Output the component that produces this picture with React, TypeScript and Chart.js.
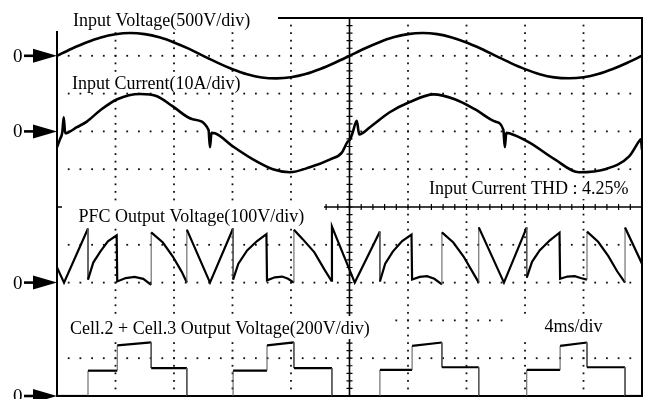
import { useEffect, useRef } from "react";
import { Chart, registerables } from "chart.js";

Chart.register(...registerables);

const CANVAS_W = 652;
const CANVAS_H = 399;

// time base: 4 ms per division, 10 divisions
const msPerDiv = 4;
const xDivs = 10;
const yDivs = 10;

// Channel 1: input voltage (V), 500 V/div
const voltageTimeMs = [
  0, 1, 2, 3, 4, 5, 6, 7, 8, 9, 10, 11, 12, 13, 14, 15, 16, 17, 18, 19, 20,
  21, 22, 23, 24, 25, 26, 27, 28, 29, 30, 31, 32, 33, 34, 35, 36, 37, 38, 39, 40,
];
const voltageValues = [
  0, 93, 176, 243, 286, 302, 287, 244, 177, 94, -2, -94, -177, -244, -286, -298,
  -284, -242, -175, -92, 0, 94, 177, 244, 287, 302, 287, 243, 176, 93, 0, -93,
  -176, -243, -285, -297, -284, -242, -175, -92, 2,
];

// Channel 2: input current (A), 10 A/div
const currentTimeMs = [
  0, 0.2, 0.36, 0.46, 0.56, 0.76, 1.36, 2.04, 2.96, 4.12, 5.68, 6.84, 7.92, 9.28,
  10.36, 10.46, 10.56, 10.8, 12.04, 13.4, 14.76, 15.92, 17.28, 18.68, 19.48,
  19.84, 20.04, 20.2, 20.5, 20.66, 21.4, 22.72, 24.08, 25.76, 27.2, 28.6,
  29.96, 30.52, 30.62, 30.72, 30.92, 32.28, 34.04, 35.68, 37.48, 39.12, 39.8,
  39.92, 40,
];
const currentValues = [
  -4.2, -2.1, -0.3, 3.7, -0.5, -0.3, 1.1, 2.6, 5.6, 8.5, 9.9, 9.3, 6.6, 3.2,
  0.4, -4.2, -0.4, -0.5, -4.0, -7.4, -10.0, -10.8, -9.5, -7.4, -5.6, -2.9,
  -2.1, -0.5, 2.8, -0.8, 1.1, 5.0, 7.7, 9.8, 8.5, 5.8, 2.6, 0.4, -4.2, -0.4,
  -0.5, -2.9, -7.4, -10.8, -10.0, -6.6, -2.6, -2.1, -4.8,
];

// Channel 3: PFC output voltage (V), 100 V/div
const pfcTimeMs = [
  0, 0.48, 2.12, 2.12, 2.48, 2.96, 3.48, 4.08, 4.12, 4.7, 5.3, 5.9, 6.44, 6.44,
  7.24, 7.92, 8.52, 8.88, 8.88, 10.46, 12.04, 12.04, 12.4, 13.0, 13.68, 14.32,
  14.36, 14.9, 15.4, 15.8, 16.2, 16.2, 16.8, 17.6, 18.28, 18.76, 18.8, 20.36,
  22.08, 22.08, 22.44, 22.96, 23.6, 24.24, 24.28, 24.8, 25.3, 25.8, 26.32,
  26.32, 27.1, 27.8, 28.4, 28.84, 28.84, 30.56, 32.12, 32.12, 32.48, 33.0,
  33.7, 34.36, 34.4, 34.9, 35.4, 35.8, 36.24, 36.24, 37.0, 37.7, 38.3, 38.84,
  38.84, 40,
];
const pfcValues = [
  40, 0, 143, 8, 53, 82, 109, 125, 3, 12, 15, 10, -6, 133, 106, 69, 29, 0, 140,
  0, 143, 8, 50, 85, 110, 128, 6, 14, 16, 10, 0, 140, 115, 80, 35, 5, 148, 0,
  135, 3, 50, 82, 110, 127, 8, 15, 17, 10, -5, 133, 106, 69, 29, 0, 146, 0,
  146, 13, 55, 85, 112, 132, 10, 16, 17, 12, 8, 135, 108, 70, 30, 0, 146, 50,
];

// Channel 4: Cell.2 + Cell.3 output voltage (V), 200 V/div
const cellTimeMs = [
  0, 2.12, 2.12, 4.12, 4.12, 6.44, 6.44, 8.88, 8.88, 12.04, 12.04, 14.36, 14.36,
  16.2, 16.2, 18.8, 18.8, 22.08, 22.08, 24.28, 24.28, 26.32, 26.32, 28.84,
  28.84, 32.12, 32.12, 34.4, 34.4, 36.24, 36.24, 38.84, 38.84, 40,
];
const cellValues = [
  0, 0, 134, 134, 268, 284, 148, 148, 0, 0, 134, 134, 268, 284, 148, 148, 0, 0,
  138, 138, 265, 283, 152, 152, 0, 0, 138, 138, 265, 283, 152, 152, 0, 0,
];

// per-channel volts(amps)/div and zero-marker position (div from bottom)
const channelPerDiv = [500, 10, 100, 200];
const channelZeroDiv = [9, 7, 3, 0];

const labelTexts = [
  "Input Voltage(500V/div)",
  "Input Current(10A/div)",
  "Input Current THD : 4.25%",
  "PFC Output Voltage(100V/div)",
  "Cell.2 + Cell.3 Output Voltage(200V/div)",
  "4ms/div",
];
// layout of labels: [textX, baseline, boxX0, boxY0, boxX1, boxY1]
const labelLayout = [
  [73, 26, 50, 0, 278, 31],
  [72, 88.5, 70, 75, 243, 92],
  [429, 194, 427, 179, 630, 199],
  [78.5, 222, 62, 204, 324, 227],
  [70, 333.5, 66, 316, 389, 339],
  [544.5, 332, 508, 314, 639, 340],
];

const FONT = '18px "Liberation Serif", "Times New Roman", serif';

const scopePlugin = {
  id: "scopeGrid",
  beforeDatasetsDraw(chart: any) {
    const { ctx, chartArea: a, scales } = chart;
    const xs = scales.x;
    const ys = scales.y;
    const px = (d: number) => xs.getPixelForValue(d * msPerDiv);
    const py = (d: number) => ys.getPixelForValue(d);
    ctx.save();
    ctx.fillStyle = "#111";
    // dotted grid lines, 5 dots per division
    for (let i = 1; i < xDivs; i++) {
      if (i === xDivs / 2) continue;
      const X = px(i);
      for (let k = 1; k < yDivs * 5; k++) {
        const Y = py(k / 5);
        ctx.fillRect(X - 0.9, Y - 0.9, 1.8, 1.8);
      }
    }
    for (let j = 1; j < yDivs; j++) {
      if (j === yDivs / 2) continue;
      const Y = py(j);
      for (let k = 1; k < xDivs * 5; k++) {
        const X = px(k / 5);
        ctx.fillRect(X - 0.9, Y - 0.9, 1.8, 1.8);
      }
    }
    // center cross with ticks
    ctx.strokeStyle = "#000";
    ctx.lineWidth = 1.6;
    const cx = px(xDivs / 2);
    const cy = py(yDivs / 2);
    ctx.beginPath();
    ctx.moveTo(cx, a.top);
    ctx.lineTo(cx, a.bottom);
    ctx.moveTo(a.left, cy);
    ctx.lineTo(a.right, cy);
    ctx.stroke();
    ctx.lineWidth = 1.2;
    ctx.beginPath();
    for (let k = 1; k < yDivs * 5; k++) {
      const Y = py(k / 5);
      ctx.moveTo(cx - 3, Y);
      ctx.lineTo(cx + 3, Y);
    }
    for (let k = 1; k < xDivs * 5; k++) {
      const X = px(k / 5);
      ctx.moveTo(X, cy - 3);
      ctx.lineTo(X, cy + 3);
    }
    ctx.stroke();
    // border
    ctx.lineWidth = 2;
    ctx.strokeRect(a.left, a.top, a.right - a.left, a.bottom - a.top);

    // label boxes and labels
    ctx.font = FONT;
    ctx.textBaseline = "alphabetic";
    ctx.textAlign = "left";
    labelTexts.forEach((t, i) => {
      const [tx, ty, x0, y0, x1, y1] = labelLayout[i];
      ctx.fillStyle = "#fff";
      ctx.fillRect(x0, y0, x1 - x0, y1 - y0);
      ctx.fillStyle = "#000";
      ctx.fillText(t, tx, ty);
    });

    // zero markers
    channelZeroDiv.forEach((z) => {
      const Y = py(z);
      ctx.fillStyle = "#000";
      ctx.font = '19px "Liberation Serif", serif';
      ctx.textBaseline = "middle";
      ctx.fillText("0", 13, Y + 1);
      ctx.lineWidth = 2.6;
      ctx.beginPath();
      ctx.moveTo(24, Y);
      ctx.lineTo(36, Y);
      ctx.stroke();
      ctx.beginPath();
      ctx.moveTo(33, Y - 7);
      ctx.lineTo(a.left, Y);
      ctx.lineTo(33, Y + 7);
      ctx.closePath();
      ctx.fill();
    });
    ctx.restore();
  },
};

function toPoints(times: number[], vals: number[], ch: number) {
  return times.map((t, i) => ({
    x: t,
    y: channelZeroDiv[ch] + vals[i] / channelPerDiv[ch],
  }));
}

const thinVertical = {
  borderWidth: (c: any) => (c.p0.parsed.x === c.p1.parsed.x ? 1 : undefined),
  borderColor: (c: any) => (c.p0.parsed.x === c.p1.parsed.x ? "#555" : undefined),
};

export default function App() {
  const ref = useRef<HTMLCanvasElement | null>(null);
  useEffect(() => {
    document.body.style.margin = "0";
    const canvas = ref.current;
    if (!canvas) return;
    const chart = new Chart(canvas, {
      type: "line",
      data: {
        datasets: [
          {
            data: toPoints(voltageTimeMs, voltageValues, 0),
            borderColor: "#000",
            borderWidth: 2.6,
            cubicInterpolationMode: "monotone",
          },
          {
            data: toPoints(currentTimeMs, currentValues, 1),
            borderColor: "#000",
            borderWidth: 2.6,
            cubicInterpolationMode: "monotone",
          },
          {
            data: toPoints(pfcTimeMs, pfcValues, 2),
            borderColor: "#000",
            borderWidth: 2.2,
            segment: thinVertical,
          },
          {
            data: toPoints(cellTimeMs, cellValues, 3),
            borderColor: "#000",
            borderWidth: 2.2,
            segment: thinVertical,
          },
        ] as any,
      },
      options: {
        animation: false,
        responsive: false,
        devicePixelRatio: 1,
        layout: { padding: { left: 57, right: 10, top: 18, bottom: 3 } },
        elements: { point: { radius: 0 } },
        plugins: { legend: { display: false }, tooltip: { enabled: false } },
        scales: {
          x: { type: "linear", min: 0, max: xDivs * msPerDiv, display: false },
          y: { type: "linear", min: 0, max: yDivs, display: false },
        },
      } as any,
      plugins: [scopePlugin],
    });
    return () => chart.destroy();
  }, []);
  return (
    <div style={{ position: "fixed", left: 0, top: 0, width: CANVAS_W, height: CANVAS_H, background: "#fff" }}>
      <canvas ref={ref} width={CANVAS_W} height={CANVAS_H} style={{ width: CANVAS_W, height: CANVAS_H }} />
    </div>
  );
}
